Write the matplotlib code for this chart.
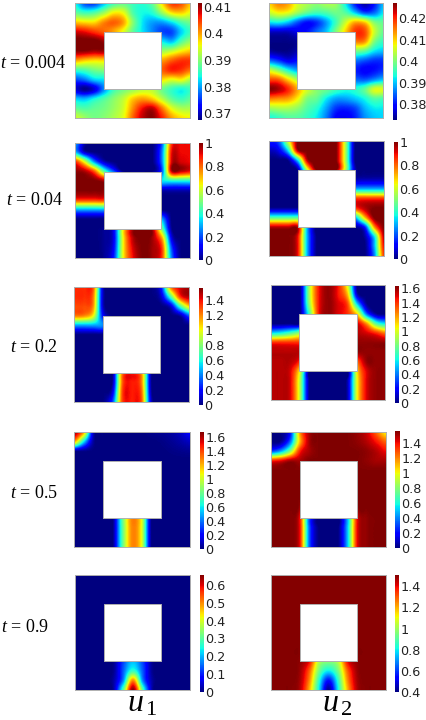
import numpy as np
import matplotlib
matplotlib.use('Agg')
import matplotlib.pyplot as plt
from matplotlib.patches import Rectangle

plt.rcParams['mathtext.fontset'] = 'custom'
plt.rcParams['mathtext.rm'] = 'Liberation Serif'
plt.rcParams['mathtext.it'] = 'Liberation Serif:italic'

W, H = 427, 720

# values read on a 13 x 13 grid over the square, top row first
u1_t1 = [
    [.384,.376,.375,.381,.386,.388,.386,.385,.388,.397,.405,.404,.398],
    [.388,.386,.387,.391,.396,.395,.387,.384,.385,.391,.397,.398,.395],
    [.398,.397,.397,.401,.403,.400,.390,.383,.380,.380,.383,.387,.389],
    [.408,.407,.405,.403,.400,.395,.388,.383,.379,.376,.376,.382,.386],
    [.412,.412,.412,.410,.405,.395,.390,.385,.382,.383,.381,.387,.391],
    [.411,.411,.410,.410,.405,.395,.390,.390,.391,.391,.393,.396,.398],
    [.400,.398,.397,.397,.395,.395,.395,.398,.400,.400,.403,.405,.405],
    [.386,.387,.389,.390,.390,.395,.395,.400,.402,.403,.406,.405,.402],
    [.376,.378,.382,.383,.385,.390,.393,.396,.397,.397,.395,.396,.392],
    [.371,.368,.371,.379,.386,.389,.391,.393,.393,.389,.386,.384,.386],
    [.382,.381,.384,.387,.390,.393,.398,.400,.398,.393,.388,.386,.388],
    [.388,.387,.388,.389,.391,.394,.401,.407,.409,.402,.395,.392,.392],
    [.394,.391,.389,.390,.392,.395,.403,.409,.411,.406,.400,.397,.396],
]
u2_t1 = [
    [.410,.415,.413,.406,.403,.401,.403,.402,.392,.380,.374,.380,.390],
    [.405,.408,.407,.402,.398,.396,.397,.399,.397,.390,.383,.385,.392],
    [.392,.393,.390,.384,.380,.382,.388,.396,.405,.412,.410,.400,.398],
    [.376,.376,.376,.378,.380,.385,.390,.400,.410,.419,.418,.405,.398],
    [.373,.373,.373,.374,.378,.385,.390,.400,.410,.415,.414,.400,.395],
    [.374,.373,.373,.375,.378,.385,.390,.395,.400,.400,.398,.392,.390],
    [.385,.382,.378,.380,.382,.385,.385,.385,.385,.386,.384,.382,.382],
    [.405,.400,.393,.388,.385,.385,.385,.383,.382,.381,.379,.380,.382],
    [.418,.417,.410,.403,.395,.390,.388,.386,.385,.385,.384,.387,.390],
    [.427,.425,.420,.412,.405,.400,.398,.395,.393,.394,.398,.406,.406],
    [.415,.414,.413,.408,.400,.398,.392,.388,.388,.390,.393,.397,.396],
    [.402,.403,.403,.401,.397,.394,.388,.382,.381,.383,.389,.392,.392],
    [.393,.395,.397,.397,.395,.392,.386,.379,.378,.381,.387,.390,.391],
]
u1_t2 = [
    [.30,.05,0,0,0,0,0,0,0,.20,.85,.90,.90],
    [.30,.05,0,0,0,0,0,0,0,.25,.90,.90,.90],
    [.85,.60,.25,.05,0,0,0,0,0,.25,.92,.92,.90],
    [.98,.95,.80,.45,.20,0,0,0,0,.20,.95,.95,.90],
    [1,1,1,.95,.80,.5,.3,.3,.3,.35,.40,.40,.40],
    [1,1,1,.98,.80,.5,.2,.1,.1,.05,.05,.05,.05],
    [.85,.85,.85,.85,.70,.3,.1,0,0,0,0,0,0],
    [.30,.30,.30,.30,.25,.1,0,0,0,0,0,0,0],
    [0,0,0,0,.05,.3,.5,.5,.5,.3,0,0,0],
    [0,0,0,.02,.10,.65,.95,1,.95,.50,.02,0,0],
    [0,0,0,.02,.10,.65,.95,1,.97,.75,.10,0,0],
    [0,0,0,.02,.12,.65,.92,1,.97,.85,.20,0,0],
    [0,0,0,.02,.15,.65,.90,1,.97,.85,.25,0,0],
]
u2_t2 = [
    [.15,.20,.60,1,1,1,1,1,.55,0,0,0,0],
    [.05,.10,.35,.95,1,1,1,1,.55,0,0,0,0],
    [0,0,.02,.35,.95,1,1,1,.55,0,0,0,0],
    [0,0,0,.03,.60,1,1,1,.55,.05,0,0,0],
    [0,0,0,0,.2,.3,.3,.2,.1,.05,.05,.05,.05],
    [0,0,0,0,0,.1,.1,.2,.3,.30,.30,.30,.30],
    [0,0,0,0,0,.1,.3,.6,.9,.85,.85,.85,.85],
    [.02,.02,.02,.02,.02,.1,.3,.5,.7,.85,.95,1,1],
    [.45,.45,.45,.45,.4,.3,.2,.2,.2,.30,.70,1,1],
    [.95,.95,.95,.95,.30,0,0,0,0,.02,.15,.75,1],
    [1,1,1,.90,.30,0,0,0,0,0,.03,.35,.95],
    [1,1,1,.90,.30,0,0,0,0,0,0,.30,.90],
    [1,1,1,.90,.30,0,0,0,0,0,0,.25,.85],
]
u1_t3 = [
    [1.35,1.35,1.28,.10,0,0,0,0,0,.20,1.20,1.45,1.52],
    [1.35,1.35,1.22,.10,0,0,0,0,0,.10,.70,1.35,1.50],
    [1.30,1.30,1.18,.10,0,0,0,0,0,0,.12,.70,1.10],
    [1.22,1.20,1.00,.20,0,0,0,0,0,0,0,.05,.35],
    [.45,.45,.45,.40,.1,0,0,0,0,0,0,0,0],
    [0,0,0,0,0,0,0,0,0,0,0,0,0],
    [0,0,0,0,0,0,0,0,0,0,0,0,0],
    [0,0,0,0,0,0,0,0,0,0,0,0,0],
    [0,0,0,0,0,.6,.9,.6,0,0,0,0,0],
    [0,0,0,0,.03,1.20,1.38,1.15,.03,0,0,0,0],
    [0,0,0,0,.05,1.25,1.38,1.20,.03,0,0,0,0],
    [0,0,0,0,.15,1.30,1.38,1.25,.05,0,0,0,0],
    [0,0,0,0,.30,1.30,1.38,1.28,.10,0,0,0,0],
]
u2_t3 = [
    [0,0,0,0,.90,1.45,1.60,1.45,1.00,0,0,0,0],
    [0,0,0,0,.90,1.45,1.60,1.45,1.15,.10,0,0,0],
    [0,0,0,0,.85,1.45,1.60,1.50,1.35,.55,.03,0,0],
    [0,0,0,0,.70,1.45,1.60,1.50,1.40,1.10,.35,.03,0],
    [0,0,0,0,.6,1.4,1.6,1.5,1.45,1.50,1.20,.70,.55],
    [.55,.60,.70,.85,1.0,1.4,1.6,1.55,1.55,1.55,1.50,1.40,1.25],
    [1.40,1.40,1.40,1.40,1.4,1.5,1.6,1.6,1.6,1.60,1.60,1.60,1.60],
    [1.55,1.55,1.55,1.55,1.55,1.6,1.6,1.6,1.6,1.60,1.60,1.60,1.60],
    [1.55,1.55,1.55,1.40,.80,.6,.6,.6,.8,1.30,1.60,1.60,1.60],
    [1.55,1.55,1.50,1.05,.02,0,0,0,.02,1.10,1.50,1.60,1.60],
    [1.55,1.55,1.50,.95,.03,0,0,0,.08,1.05,1.50,1.60,1.60],
    [1.55,1.55,1.50,.95,.03,0,0,0,.08,1.05,1.50,1.60,1.60],
    [1.55,1.55,1.50,.95,.03,0,0,0,.08,1.05,1.50,1.60,1.60],
]
u1_t4 = [
    [1.65,1.25,.10,.01,0,0,0,0,.02,.03,.05,.10,.20],
    [1.25,.60,.05,0,0,0,0,0,0,.01,.03,.06,.10],
    [.03,.02,0,0,0,0,0,0,0,0,.01,.02,.03],
    [0,0,0,0,0,0,0,0,0,0,0,0,0],
    [0,0,0,0,0,0,0,0,0,0,0,0,0],
    [0,0,0,0,0,0,0,0,0,0,0,0,0],
    [0,0,0,0,0,0,0,0,0,0,0,0,0],
    [0,0,0,0,0,0,0,0,0,0,0,0,0],
    [0,0,0,0,0,.6,1.1,.9,0,0,0,0,0],
    [0,0,0,0,0,.75,1.28,1.05,.02,0,0,0,0],
    [0,0,0,0,0,.75,1.28,1.05,.02,0,0,0,0],
    [0,0,0,0,0,.75,1.28,1.05,.02,0,0,0,0],
    [0,0,0,0,0,.75,1.28,1.05,.02,0,0,0,0],
]
u2_t4 = [
    [0,.02,.20,1.15,1.50,1.55,1.55,1.55,1.55,1.52,1.45,1.25,1.00],
    [0,.02,.35,1.10,1.50,1.55,1.55,1.55,1.55,1.53,1.48,1.38,1.25],
    [.30,.45,.80,1.35,1.50,1.55,1.55,1.55,1.55,1.55,1.53,1.48,1.40],
    [1.35,1.40,1.50,1.50,1.55,1.55,1.55,1.55,1.55,1.55,1.53,1.50,1.50],
    [1.55,1.55,1.55,1.55,1.55,1.55,1.55,1.55,1.55,1.55,1.55,1.55,1.55],
    [1.55,1.55,1.55,1.55,1.55,1.55,1.55,1.55,1.55,1.55,1.55,1.55,1.55],
    [1.55,1.55,1.55,1.55,1.55,1.55,1.55,1.55,1.55,1.55,1.55,1.55,1.55],
    [1.55,1.55,1.55,1.55,1.55,1.55,1.55,1.55,1.55,1.55,1.55,1.55,1.55],
    [1.55,1.55,1.55,1.50,.90,.5,.5,.5,.9,1.50,1.55,1.55,1.55],
    [1.55,1.55,1.55,1.40,.35,0,0,0,.50,1.40,1.53,1.55,1.55],
    [1.55,1.55,1.55,1.40,.35,0,0,0,.50,1.40,1.53,1.55,1.55],
    [1.55,1.55,1.55,1.40,.35,0,0,0,.50,1.40,1.53,1.55,1.55],
    [1.55,1.55,1.55,1.40,.35,0,0,0,.50,1.40,1.53,1.55,1.55],
]
u1_t5 = [
    [0,0,0,0,0,0,0,0,0,0,0,0,0],
    [0,0,0,0,0,0,0,0,0,0,0,0,0],
    [0,0,0,0,0,0,0,0,0,0,0,0,0],
    [0,0,0,0,0,0,0,0,0,0,0,0,0],
    [0,0,0,0,0,0,0,0,0,0,0,0,0],
    [0,0,0,0,0,0,0,0,0,0,0,0,0],
    [0,0,0,0,0,0,0,0,0,0,0,0,0],
    [0,0,0,0,0,0,0,0,0,0,0,0,0],
    [0,0,0,0,0,.05,.10,.05,0,0,0,0,0],
    [0,0,0,0,.01,.12,.20,.12,.01,0,0,0,0],
    [0,0,0,0,.01,.14,.27,.14,.01,0,0,0,0],
    [0,0,0,0,.02,.17,.50,.17,.02,0,0,0,0],
    [0,0,0,0,.02,.30,.65,.30,.02,0,0,0,0],
]
u2_t5 = [
    [1.5,1.5,1.5,1.5,1.5,1.5,1.5,1.5,1.5,1.5,1.5,1.5,1.5],
    [1.5,1.5,1.5,1.5,1.5,1.5,1.5,1.5,1.5,1.5,1.5,1.5,1.5],
    [1.5,1.5,1.5,1.5,1.5,1.5,1.5,1.5,1.5,1.5,1.5,1.5,1.5],
    [1.5,1.5,1.5,1.5,1.5,1.5,1.5,1.5,1.5,1.5,1.5,1.5,1.5],
    [1.5,1.5,1.5,1.5,1.5,1.5,1.5,1.5,1.5,1.5,1.5,1.5,1.5],
    [1.5,1.5,1.5,1.5,1.5,1.5,1.5,1.5,1.5,1.5,1.5,1.5,1.5],
    [1.5,1.5,1.5,1.5,1.5,1.5,1.5,1.5,1.5,1.5,1.5,1.5,1.5],
    [1.5,1.5,1.5,1.5,1.5,1.5,1.5,1.5,1.5,1.5,1.5,1.5,1.5],
    [1.5,1.5,1.5,1.5,1.45,1.3,1.2,1.3,1.45,1.5,1.5,1.5,1.5],
    [1.5,1.5,1.5,1.49,1.40,1.05,.98,1.05,1.40,1.49,1.5,1.5,1.5],
    [1.5,1.5,1.5,1.48,1.30,.95,.80,.95,1.30,1.48,1.5,1.5,1.5],
    [1.5,1.5,1.5,1.47,1.25,.85,.55,.85,1.25,1.47,1.5,1.5,1.5],
    [1.5,1.5,1.5,1.46,1.20,.80,.42,.80,1.20,1.46,1.5,1.5,1.5],
]

grids = [u1_t1, u2_t1, u1_t2, u2_t2, u1_t3, u2_t3, u1_t4, u2_t4, u1_t5, u2_t5]
vmins = [.3675, .3725, 0, 0, 0, 0, 0, 0, 0, .4]
vmaxs = [.4114, .4272, 1, 1, 1.565, 1.63, 1.676, 1.555, .656, 1.507]
ticks = [
    [.37, .38, .39, .40, .41],
    [.38, .39, .40, .41, .42],
    [0, .2, .4, .6, .8, 1],
    [0, .2, .4, .6, .8, 1],
    [0, .2, .4, .6, .8, 1, 1.2, 1.4],
    [0, .2, .4, .6, .8, 1, 1.2, 1.4, 1.6],
    [0, .2, .4, .6, .8, 1, 1.2, 1.4, 1.6],
    [0, .2, .4, .6, .8, 1, 1.2, 1.4],
    [0, .1, .2, .3, .4, .5, .6],
    [.4, .6, .8, 1, 1.2, 1.4],
]
time_labels = ['0.004', '0.04', '0.2', '0.5', '0.9']

# layout in reference pixels: panel left, panel top, colorbar left, colorbar top
panel_x = [75, 268.5, 75, 269, 74, 270.5, 74.5, 271, 75, 271]
panel_y = [3, 3, 143, 141, 287, 285, 432, 432, 575, 575]
cbar_x = [198, 393, 199, 394, 199, 395, 200, 395.5, 200, 395]
cbar_y = [3, 3, 143, 142, 288, 286, 432, 431, 575, 575]
label_x = [66, 63, 58, 58, 49]
label_y = [68, 205, 352, 498, 632]


def px_axes(fig, x, y, w, h):
    return fig.add_axes([x / W, 1 - (y + h) / H, w / W, h / H])


fig = plt.figure(figsize=(W / 100, H / 100), dpi=100)

for k, grid in enumerate(grids):
    ax = px_axes(fig, panel_x[k], panel_y[k], 115, 115)
    # catrom passes through the read values, agg's bicubic smooths them away
    im = ax.imshow(np.array(grid), cmap='jet', vmin=vmins[k], vmax=vmaxs[k],
                   interpolation='catrom', aspect='auto')
    ax.set_xlim(0, 12)
    ax.set_ylim(12, 0)
    ax.set_xticks([])
    ax.set_yticks([])
    for s in ax.spines.values():
        s.set_color('#b0b0b0')
        s.set_linewidth(0.7)
    ax.add_patch(Rectangle((3, 3), 6, 6, fc='white', ec='#b0b0b0', lw=0.7))

    cax = px_axes(fig, cbar_x[k], cbar_y[k], 4.2, 117)
    cb = fig.colorbar(im, cax=cax)
    cb.outline.set_visible(False)
    cb.set_ticks(ticks[k])
    cb.set_ticklabels([f'{t:g}' for t in ticks[k]])
    cax.tick_params(length=0, pad=1, labelsize=9.2, labelcolor='#222222')

for lab, x, y in zip(time_labels, label_x, label_y):
    fig.text(x / W, 1 - y / H, r'$\mathit{t}$ = ' + lab, ha='right', va='baseline',
             family='Liberation Serif', fontsize=13)

fig.text(127 / W, 1 - 712 / H, r'$\mathit{u}_{\,1}$', fontsize=23, va='baseline')
fig.text(322 / W, 1 - 712 / H, r'$\mathit{u}_{\,2}$', fontsize=23, va='baseline')

fig.savefig('out.png', dpi=100)
